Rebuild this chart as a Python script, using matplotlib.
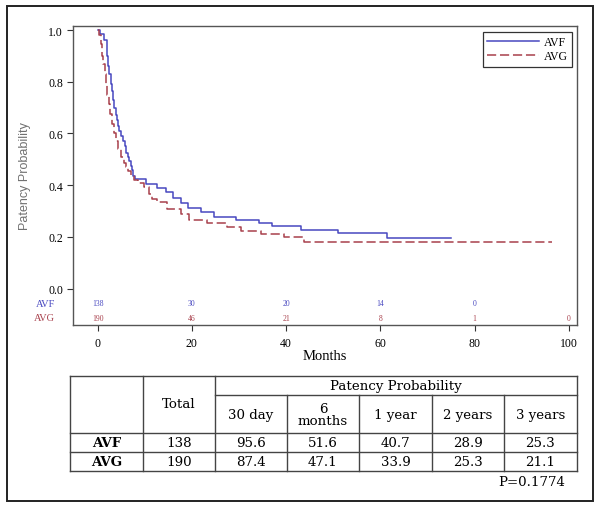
import matplotlib
matplotlib.use("Agg")
import matplotlib.pyplot as plt
from matplotlib.transforms import blended_transform_factory

# Kaplan-Meier step curves (months, patency)
avf_t = [0, 0.5, 1.4, 1.9, 2.2, 2.5, 2.8, 3.0, 3.3, 3.5, 3.8, 4.0, 4.3, 4.6, 5.0,
         5.3, 5.7, 6.0, 6.4, 6.7, 7.0, 7.3, 7.6, 8.0, 10.2, 12.7, 14.5, 15.9, 17.6,
         19.1, 21.9, 24.7, 29.3, 34.2, 37.1, 43.1, 51.0, 61.4, 75.0]
avf_s = [1.0, 0.985, 0.96, 0.90, 0.86, 0.83, 0.79, 0.765, 0.73, 0.70, 0.67, 0.65,
         0.63, 0.61, 0.59, 0.572, 0.55, 0.525, 0.51, 0.494, 0.475, 0.46, 0.437,
         0.424, 0.404, 0.389, 0.372, 0.349, 0.330, 0.311, 0.295, 0.278, 0.266,
         0.252, 0.241, 0.227, 0.215, 0.194, 0.194]

avg_t = [0, 0.3, 0.7, 1.0, 1.2, 1.5, 1.8, 2.0, 2.3, 2.7, 3.0, 3.4, 3.9, 4.4, 4.9,
         5.5, 6.0, 6.5, 7.1, 7.8, 8.5, 9.9, 10.9, 11.6, 12.7, 14.8, 17.6, 19.4,
         23.3, 27.5, 30.4, 34.6, 39.5, 43.8, 96.4]
avg_s = [1.0, 0.98, 0.946, 0.90, 0.868, 0.83, 0.791, 0.75, 0.714, 0.675, 0.636,
         0.60, 0.572, 0.54, 0.508, 0.485, 0.469, 0.455, 0.436, 0.42, 0.41, 0.391,
         0.366, 0.346, 0.333, 0.307, 0.288, 0.266, 0.252, 0.237, 0.224, 0.211,
         0.198, 0.181, 0.181]

# numbers at risk
risk_t = [0, 20, 40, 60, 80, 100]
avf_risk = [138, 30, 20, 14, 0]
avg_risk = [190, 46, 21, 8, 1, 0]

# summary table
groups = ["AVF", "AVG"]
totals = [138, 190]
periods = ["30 day", "6\nmonths", "1 year", "2 years", "3 years"]
avf_pct = ["95.6", "51.6", "40.7", "28.9", "25.3"]
avg_pct = ["87.4", "47.1", "33.9", "25.3", "21.1"]
p_value = "P=0.1774"

blue = "#4848c0"
red = "#a8404c"
serif = "Liberation Serif"

fig = plt.figure(figsize=(6.01, 5.10), dpi=100)
W, H = 601, 510

ax = fig.add_axes([72.7 / W, 1 - 326 / H, 504.5 / W, 299 / H])
ax.step(avf_t, avf_s, where="post", color=blue, lw=1.1, label="AVF")
ax.step(avg_t, avg_s, where="post", color=red, lw=1.1, dashes=(6, 2.5), label="AVG")
ax.set_xlim(-5.3, 101.8)
ax.set_ylim(-0.141, 1.0155)
ax.set_xticks([0, 20, 40, 60, 80, 100])
ax.set_yticks([0, 0.2, 0.4, 0.6, 0.8, 1.0])
ax.set_yticklabels(["0.0", "0.2", "0.4", "0.6", "0.8", "1.0"])
ax.tick_params(direction="out", length=4, width=0.8, color="#333333",
               labelsize=8.5, pad=3)
for lab in ax.get_xticklabels() + ax.get_yticklabels():
    lab.set_fontfamily(serif)
ax.tick_params(axis="x", pad=5)
for sp in ax.spines.values():
    sp.set_color("#555555")
    sp.set_linewidth(1.0)
ax.set_xlabel("Months", fontfamily=serif, fontsize=10.5, labelpad=0)
ax.set_ylabel("Patency Probability", fontfamily="Liberation Sans", fontsize=9,
              color="#707070", labelpad=12)

# at-risk rows
tr = blended_transform_factory(ax.transAxes, ax.transData)
for t, n in zip(risk_t, avf_risk):
    ax.text(t, -0.056, str(n), color=blue, fontsize=5.5, fontfamily=serif,
            ha="center", va="center")
for t, n in zip(risk_t, avg_risk):
    ax.text(t, -0.113, str(n), color=red, fontsize=5.5, fontfamily=serif,
            ha="center", va="center")
ax.text(-0.035, -0.056, "AVF", transform=tr, color=blue, fontsize=7.5,
        fontfamily=serif, ha="right", va="center")
ax.text(-0.035, -0.113, "AVG", transform=tr, color=red, fontsize=7.5,
        fontfamily=serif, ha="right", va="center")

leg = ax.legend(loc="upper right", bbox_to_anchor=(0.99, 0.98), borderaxespad=0,
                fancybox=False, edgecolor="#333333", framealpha=1,
                prop={"family": serif, "size": 8.5}, handlelength=4.4,
                handletextpad=0.4, labelspacing=0.2, borderpad=0.35)
leg.get_frame().set_linewidth(0.9)

# overlay in pixel coordinates for the table and border
ov = fig.add_axes([0, 0, 1, 1], facecolor="none")
ov.set_xlim(0, W)
ov.set_ylim(H, 0)
ov.axis("off")

ov.add_patch(plt.Rectangle((7, 7), 586, 495, fill=False, ec="#222222", lw=1.4))

cols = [70, 143, 215, 287, 359, 432, 504, 577]
rows = [377, 396, 434, 453, 472]
lc = "#444444"
lw = 1.0
tfont = {"family": "DejaVu Serif", "size": 9.6}
ov.plot([cols[0], cols[-1]], [rows[0], rows[0]], color=lc, lw=lw)
ov.plot([cols[2], cols[-1]], [rows[1], rows[1]], color=lc, lw=lw)
for r in rows[2:]:
    ov.plot([cols[0], cols[-1]], [r, r], color=lc, lw=lw)
for i, c in enumerate(cols):
    top = rows[1] if 2 < i < len(cols) - 1 else rows[0]
    ov.plot([c, c], [top, rows[-1]], color=lc, lw=lw)

ov.text((cols[1] + cols[2]) / 2, (rows[0] + rows[2]) / 2 - 1, "Total",
        ha="center", va="center", **tfont)
ov.text((cols[2] + cols[-1]) / 2, (rows[0] + rows[1]) / 2 + 0.5, "Patency Probability",
        ha="center", va="center", **tfont)
for i, lab in enumerate(periods):
    ov.text((cols[i + 2] + cols[i + 3]) / 2, (rows[1] + rows[2]) / 2 + 0.5, lab,
            ha="center", va="center", linespacing=0.95, **tfont)
for j, (g, tot, vals) in enumerate(zip(groups, totals, [avf_pct, avg_pct])):
    yc = (rows[2 + j] + rows[3 + j]) / 2 + 0.5
    ov.text((cols[0] + cols[1]) / 2, yc, g, ha="center", va="center",
            fontweight="bold", **tfont)
    ov.text((cols[1] + cols[2]) / 2, yc, str(tot), ha="center", va="center", **tfont)
    for i, v in enumerate(vals):
        ov.text((cols[i + 2] + cols[i + 3]) / 2, yc, v, ha="center", va="center",
                **tfont)
ov.text(565, 483, p_value, ha="right", va="center", **tfont)

fig.savefig("out.png", dpi=100)
